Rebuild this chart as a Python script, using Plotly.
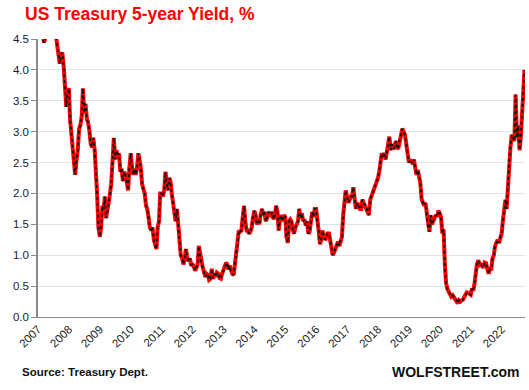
import pandas as pd
import plotly.graph_objects as go

# Semi-monthly readings (1st and 15th of each month), US Treasury 5-year yield, %
y2007 = [4.68, 4.78, 4.82, 4.70, 4.48, 4.44, 4.55, 4.62, 4.52, 4.65, 4.95, 5.05,
         4.92, 4.95, 4.55, 4.40, 4.20, 4.10, 4.25, 4.28, 4.05, 3.80, 3.40, 3.65]
y2008 = [3.70, 3.20, 2.95, 2.80, 2.60, 2.30, 2.55, 2.70, 3.05, 3.10, 3.25, 3.70,
         3.30, 3.45, 3.20, 3.15, 3.00, 2.80, 2.75, 2.90, 2.70, 2.40, 1.95, 1.45]
y2009 = [1.30, 1.45, 1.80, 1.75, 1.95, 1.60, 1.70, 1.85, 2.00, 2.15, 2.55, 2.90,
         2.55, 2.70, 2.60, 2.65, 2.35, 2.40, 2.20, 2.35, 2.30, 2.20, 2.05, 2.40]
y2010 = [2.65, 2.45, 2.30, 2.40, 2.30, 2.40, 2.65, 2.55, 2.40, 2.15, 2.05, 2.00,
         1.80, 1.75, 1.60, 1.45, 1.40, 1.45, 1.25, 1.15, 1.10, 1.45, 1.55, 2.00]
y2011 = [2.00, 1.95, 2.05, 2.35, 2.15, 2.05, 2.25, 2.20, 2.00, 1.85, 1.65, 1.55,
         1.75, 1.50, 1.25, 1.00, 0.95, 0.85, 0.95, 1.10, 0.95, 0.90, 0.95, 0.85]
y2012 = [0.85, 0.82, 0.75, 0.80, 0.85, 1.15, 1.00, 0.85, 0.80, 0.73, 0.65, 0.70,
         0.68, 0.60, 0.62, 0.78, 0.62, 0.70, 0.65, 0.72, 0.70, 0.63, 0.62, 0.70]
y2013 = [0.76, 0.78, 0.88, 0.85, 0.77, 0.83, 0.72, 0.70, 0.68, 0.85, 1.05, 1.10,
         1.40, 1.38, 1.40, 1.60, 1.80, 1.55, 1.40, 1.40, 1.35, 1.38, 1.45, 1.60]
y2014 = [1.72, 1.65, 1.50, 1.55, 1.50, 1.65, 1.75, 1.65, 1.70, 1.55, 1.60, 1.70,
         1.68, 1.65, 1.70, 1.58, 1.65, 1.80, 1.70, 1.40, 1.60, 1.65, 1.55, 1.65]
y2015 = [1.62, 1.30, 1.20, 1.55, 1.58, 1.55, 1.40, 1.35, 1.45, 1.50, 1.55, 1.75,
         1.60, 1.68, 1.55, 1.58, 1.48, 1.55, 1.35, 1.38, 1.60, 1.70, 1.62, 1.75]
y2016 = [1.75, 1.50, 1.38, 1.18, 1.25, 1.40, 1.30, 1.25, 1.28, 1.35, 1.35, 1.22,
         1.05, 1.00, 1.05, 1.10, 1.18, 1.22, 1.15, 1.25, 1.30, 1.65, 1.85, 2.05]
y2017 = [1.95, 1.85, 1.90, 1.95, 1.95, 2.10, 1.90, 1.75, 1.85, 1.80, 1.75, 1.75,
         1.90, 1.85, 1.80, 1.78, 1.70, 1.65, 1.90, 1.95, 2.00, 2.05, 2.10, 2.18]
y2018 = [2.25, 2.35, 2.55, 2.65, 2.60, 2.65, 2.55, 2.70, 2.80, 2.92, 2.70, 2.80,
         2.72, 2.75, 2.85, 2.72, 2.75, 2.90, 2.95, 3.05, 3.00, 2.95, 2.80, 2.65]
y2019 = [2.50, 2.55, 2.50, 2.48, 2.55, 2.40, 2.30, 2.38, 2.30, 2.18, 1.90, 1.85,
         1.80, 1.85, 1.65, 1.45, 1.38, 1.65, 1.50, 1.55, 1.62, 1.65, 1.62, 1.72]
y2020 = [1.68, 1.62, 1.35, 1.42, 0.85, 0.55, 0.45, 0.40, 0.38, 0.33, 0.35, 0.32,
         0.29, 0.28, 0.22, 0.27, 0.25, 0.27, 0.28, 0.32, 0.35, 0.40, 0.39, 0.37]
y2021 = [0.36, 0.46, 0.43, 0.55, 0.75, 0.85, 0.92, 0.84, 0.85, 0.83, 0.80, 0.88,
         0.87, 0.78, 0.70, 0.78, 0.78, 0.95, 1.00, 1.15, 1.22, 1.25, 1.20, 1.30]
y2022 = [1.35, 1.55, 1.70, 1.90, 1.75, 2.15, 2.55, 2.75, 2.95, 2.90, 2.85, 3.60,
         2.90, 3.10, 2.70, 2.90, 3.35, 3.55]
last_date = "2022-09-28"
last_value = 4.00

values = (y2007 + y2008 + y2009 + y2010 + y2011 + y2012 + y2013 + y2014 +
          y2015 + y2016 + y2017 + y2018 + y2019 + y2020 + y2021 + y2022)
dates = list(pd.date_range("2007-01-01", periods=len(values), freq="SMS"))
dates.append(pd.Timestamp(last_date))
values = values + [last_value]

year_ticks = [f"{y}-01-01" for y in range(2007, 2023)]
year_labels = [str(y) for y in range(2007, 2023)]
y_ticks = [0.0, 0.5, 1.0, 1.5, 2.0, 2.5, 3.0, 3.5, 4.0, 4.5]

fig = go.Figure()
fig.add_trace(go.Scatter(x=dates, y=values, mode="lines",
                         line=dict(color="#ff0000", width=4),
                         hoverinfo="skip", showlegend=False))
fig.add_trace(go.Scatter(x=dates, y=values, mode="lines",
                         line=dict(color="#111111", width=1.8, dash="dot"),
                         showlegend=False))

fig.update_layout(
    width=529, height=390,
    margin=dict(l=38, r=4, t=39, b=73),
    paper_bgcolor="white", plot_bgcolor="white",
    font=dict(family="Liberation Sans, Arial, sans-serif", size=11, color="#222222"),
    xaxis=dict(type="date", range=["2007-01-01", "2022-10-04"], automargin=False,
               tickvals=year_ticks, ticktext=year_labels, tickangle=-45,
               showgrid=False, showline=True, linecolor="#8a8a8a", linewidth=1,
               ticks="", tickfont=dict(size=11.5, color="#222222")),
    yaxis=dict(range=[0, 4.5], tickvals=y_ticks, tickformat=".1f", automargin=False,
               showgrid=True, gridcolor="#e2e3ea", gridwidth=1,
               showline=True, linecolor="#8a8a8a", linewidth=1.5,
               ticks="outside", ticklen=5, tickcolor="#8a8a8a",
               zeroline=False, tickfont=dict(size=11.5, color="#1a1a2e")),
    annotations=[
        dict(text="<b>US Treasury 5-year Yield, %</b>", xref="paper", yref="paper",
             x=-0.031, y=1.0, xanchor="left", yanchor="bottom", yshift=13,
             showarrow=False, font=dict(size=17.5, color="#ff0000",
                                        family="Liberation Sans, Arial, sans-serif")),
        dict(text="<b>Source: Treasury Dept.</b>", xref="paper", yref="paper",
             x=-0.037, y=0, xanchor="left", yanchor="middle", yshift=-55,
             showarrow=False, font=dict(size=11.5, color="#111111")),
        dict(text="<b>WOLFSTREET.com</b>", xref="paper", yref="paper",
             x=1.0, y=0, xanchor="right", yanchor="middle", yshift=-55, xshift=-3,
             showarrow=False, font=dict(size=14, color="#111111")),
    ],
)

fig.write_html("out.html", config={"displayModeBar": False},
               post_script="document.body.style.margin='0';")
